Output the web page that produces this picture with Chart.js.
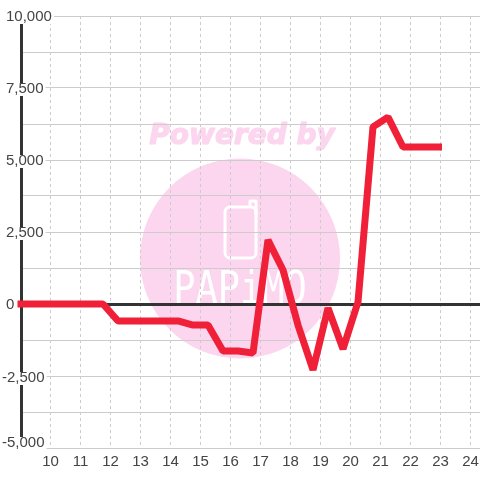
<!DOCTYPE html>
<html>
<head>
<meta charset="utf-8">
<style>
  html, body { margin: 0; padding: 0; background: #fff; }
  #wrap { width: 480px; height: 480px; }
</style>
<script src="https://cdn.jsdelivr.net/npm/chart.js@4"></script>
</head>
<body>
<div id="wrap"><canvas id="c" width="480" height="480"></canvas></div>
<script>
const hours = [8.9, 11.75, 12.25, 14.25, 14.75, 15.25, 15.75, 16.25, 16.75, 17.25, 17.75, 18.25, 18.75, 19.25, 19.75, 20.25, 20.75, 21.25, 21.75, 23.05];
const values = [0, 0, -590, -590, -730, -730, -1630, -1630, -1700, 2220, 1180, -730, -2290, -140, -1560, 70, 6150, 6490, 5450, 5450];
const xTicks = [10, 11, 12, 13, 14, 15, 16, 17, 18, 19, 20, 21, 22, 23, 24];
const yGrid = [-5000, -3750, -2500, -1250, 0, 1250, 2500, 3750, 5000, 6250, 7500, 8750, 10000];
const yTickValues = [10000, 7500, 5000, 2500, 0, -2500, -5000];
const yTickLabels = ["10,000", "7,500", "5,000", "2,500", "0", "-2,500", "-5,000"];

const FONT = '15px "Liberation Sans", Arial, sans-serif';

// watermark sits under the grid
const watermark = {
  id: "watermark",
  beforeDraw(chart) {
    const ctx = chart.ctx;
    ctx.save();
    ctx.fillStyle = "#fff";
    ctx.fillRect(0, 0, 480, 480);
    ctx.fillStyle = "#fcd5ee";
    ctx.beginPath();
    ctx.arc(240, 258.5, 100, 0, Math.PI * 2);
    ctx.fill();
    ctx.font = 'italic bold 28px "DejaVu Sans"';
    ctx.textAlign = "center";
    ctx.textBaseline = "middle";
    ctx.strokeStyle = "#fcd5ee";
    ctx.lineWidth = 1.2;
    ctx.lineJoin = "round";
    ctx.strokeText("Powered by", 242, 137);
    ctx.fillText("Powered by", 242, 137);
    // phone
    ctx.strokeStyle = "#fff";
    ctx.lineWidth = 3;
    ctx.beginPath();
    ctx.roundRect(225, 207, 31, 51, 5);
    ctx.stroke();
    ctx.beginPath();
    ctx.moveTo(250, 207);
    ctx.lineTo(250, 201);
    ctx.lineTo(256, 201);
    ctx.lineTo(256, 215);
    ctx.stroke();
    ctx.fillStyle = "#fff";
    ctx.font = '37px "DejaVu Sans Mono"';
    ctx.translate(240, 292);
    ctx.scale(1, 1.18);
    ctx.fillText("PAPiMO", 0, 0);
    ctx.restore();
  }
};

// y labels sit left of the gridlines, each with its own white patch
const yLabelPlugin = {
  id: "yLabelPlugin",
  afterDatasetsDraw(chart) {
    const ctx = chart.ctx;
    const y = chart.scales.y;
    ctx.save();
    ctx.font = FONT;
    ctx.textBaseline = "middle";
    ctx.textAlign = "left";
    yTickValues.forEach((v, i) => {
      const text = yTickLabels[i];
      const x = v < 0 ? 2 : 6;
      // the bottom label is pushed up so it stays inside the plot
      const py = y.getPixelForValue(v) + (v === -5000 ? -5 : v === -2500 ? 2 : 1);
      const w = ctx.measureText(text).width;
      if (v !== 0) {
        const top = v === 10000 ? 8 : py - 6;
        const bottom = v === -5000 ? 450 : py + 7;
        ctx.fillStyle = "#fff";
        ctx.fillRect(x - 2, top, w + 4, bottom - top);
      }
      ctx.fillStyle = "#444";
      ctx.fillText(text, x, py);
    });
    ctx.restore();
  }
};

new Chart(document.getElementById("c").getContext("2d"), {
  type: "scatter",
  data: {
    datasets: [{
      data: hours.map((h, i) => ({ x: h, y: values[i] })),
      showLine: true,
      clip: false,
      borderColor: "#f02038",
      borderWidth: 7,
      borderJoinStyle: "bevel",
      borderCapStyle: "butt",
      pointRadius: 0,
      tension: 0,
      fill: false
    }]
  },
  options: {
    responsive: false,
    animation: false,
    layout: { padding: { top: 16, bottom: 0, left: 0, right: 0 } },
    plugins: { legend: { display: false }, tooltip: { enabled: false } },
    scales: {
      x: {
        type: "linear",
        min: 9.0167,
        max: 24.3167,
        afterBuildTicks: s => { s.ticks = xTicks.map(v => ({ value: v })); },
        afterFit: s => { s.height = 32; s.paddingLeft = 0; s.paddingRight = 0; },
        grid: { color: "#ccc", lineWidth: 1, drawTicks: false },
        border: { display: false, dash: [3, 3] },
        ticks: {
          font: { family: '"Liberation Sans"', size: 15 },
          color: "#444",
          padding: 5,
          maxRotation: 0,
          autoSkip: false,
          callback: v => String(v)
        }
      },
      y: {
        type: "linear",
        min: -5000,
        max: 10000,
        afterBuildTicks: s => { s.ticks = yGrid.map(v => ({ value: v })); },
        afterFit: s => { s.width = 21; s.paddingTop = 0; s.paddingBottom = 0; },
        grid: {
          color: c => c.tick.value === 0 ? "#333" : "#ccc",
          lineWidth: c => c.tick.value === 0 ? 3 : 1,
          drawTicks: false
        },
        border: { display: true, color: "#333", width: 3 },
        ticks: { display: false }
      }
    }
  },
  plugins: [watermark, yLabelPlugin]
});
</script>
</body>
</html>
